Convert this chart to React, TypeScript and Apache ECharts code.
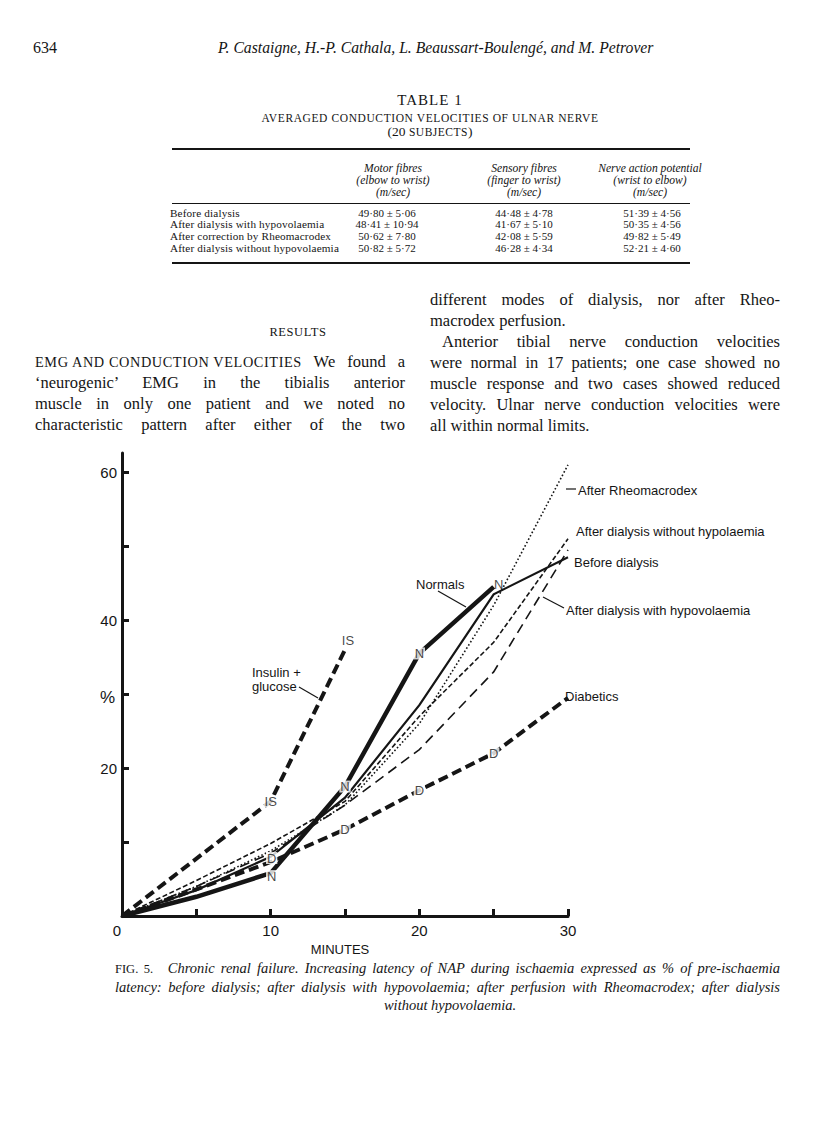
import React, { useEffect, useRef } from "react";
import * as echarts from "echarts";

// ---- axis ticks / labels ----
const xTicks = [0, 5, 10, 15, 20, 25, 30];
const xTickLabels = [0, 10, 20, 30];
const yTicks = [10, 20, 30, 40, 50, 60];
const yTickLabels = [20, 40, 60];

// ---- series (minutes, % increase of latency) ----
const isMinutes = [0, 10, 15];
const isValues = [0, 15.5, 36];

const normalMinutes = [0, 5, 10, 15, 20, 25];
const normalValues = [0, 2.6, 5.8, 17.5, 35.5, 44.5];

const diabeticMinutes = [0, 5, 10, 15, 20, 25, 30];
const diabeticValues = [0, 3.6, 7.3, 11.7, 17, 22, 29.5];

const stdMinutes = [0, 5, 10, 15, 20, 25, 30];
const beforeValues = [0, 3.5, 8, 16, 28.5, 43.5, 48.5];
const hypoValues = [0, 4, 8.5, 15, 22.5, 33, 49.5];
const rheoValues = [0, 4, 8.8, 15, 26, 42, 61];
const withoutValues = [0, 4.8, 9.8, 15.5, 27, 37, 51];

// indices of points carrying letter marks
const isMarked = [1, 2];
const normalMarked = [2, 3, 4, 5];
const diabeticMarked = [2, 3, 4, 5];

// ---- table ----
const tableRows = [
  "Before dialysis",
  "After dialysis with hypovolaemia",
  "After correction by Rheomacrodex",
  "After dialysis without hypovolaemia",
];
const motorFibres = ["49·80 ± 5·06", "48·41 ± 10·94", "50·62 ± 7·80", "50·82 ± 5·72"];
const sensoryFibres = ["44·48 ± 4·78", "41·67 ± 5·10", "42·08 ± 5·59", "46·28 ± 4·34"];
const napValues = ["51·39 ± 4·56", "50·35 ± 4·56", "49·82 ± 5·49", "52·21 ± 4·60"];

const SANS = '"Liberation Sans", Arial, Helvetica, sans-serif';
const SERIF = '"Liberation Serif", "Times New Roman", serif';
const INK = "#151515";

const zip = (xs: number[], ys: number[]) => xs.map((x, i) => [x, ys[i]]);

function lineSeries(name: string, xs: number[], ys: number[], width: number, type: any, z: number) {
  return {
    name,
    type: "line",
    data: zip(xs, ys),
    symbol: "none",
    showSymbol: false,
    color: INK,
    z,
    lineStyle: { color: INK, width, type, cap: "butt", join: "miter" },
    silent: true,
  };
}

function markSeries(text: string, xs: number[], ys: number[], idx: number[], offsets: Record<number, number[]>, endIdx: number[] = []) {
  return {
    type: "scatter",
    z: 10,
    color: INK,
    symbolSize: 0.01,
    itemStyle: { color: INK },
    silent: true,
    data: idx.map((i) => ({
      value: [xs[i], ys[i]],
      label: {
        offset: offsets[i] || [0, 0],
        backgroundColor: endIdx.includes(i) ? "transparent" : "#fff",
      },
    })),
    label: {
      show: true,
      position: "inside",
      formatter: text,
      fontFamily: SANS,
      fontSize: 13,
      color: INK,
      textBorderWidth: 0,
      textBorderColor: INK,
      backgroundColor: "#fff",
      padding: [0, 1],
      lineHeight: 12,
    },
  };
}

const abs = (left: number, top: number, extra: any = {}): React.CSSProperties => ({
  position: "absolute",
  left,
  top,
  whiteSpace: "nowrap",
  ...extra,
});

function Txt({ x, y, children, align = "left", size = 11, italic = false, lhf = 1.2, style = {} }: any) {
  const lh = Math.round(size * lhf);
  const tr = align === "center" ? "translateX(-50%)" : align === "right" ? "translateX(-100%)" : "none";
  return (
    <div
      style={abs(x, y - lh / 2, {
        fontFamily: SERIF,
        fontSize: size,
        lineHeight: lh + "px",
        fontStyle: italic ? "italic" : "normal",
        color: INK,
        transform: tr,
        ...style,
      })}
    >
      {children}
    </div>
  );
}

function JLine({ x, y, w, children, last = false, size = 16.5, indent = 0 }: any) {
  const lh = 20;
  return (
    <div
      style={{
        position: "absolute",
        left: x + indent,
        top: y - lh / 2,
        width: w - indent,
        fontFamily: SERIF,
        fontSize: size,
        lineHeight: lh + "px",
        color: INK,
        textAlign: last ? "left" : "justify",
        textAlignLast: last ? "left" : "justify",
        whiteSpace: "nowrap",
      } as React.CSSProperties}
    >
      {children}
    </div>
  );
}

export default function App() {
  const ref = useRef<HTMLDivElement>(null);

  useEffect(() => {
    if (!ref.current) return;
    const chart = echarts.init(ref.current, null, { renderer: "svg" });
    const text = (t: string, x: number, y: number, size = 13) => ({
      type: "text",
      x,
      y,
      silent: true,
      style: { text: t, font: `${size}px ${SANS}`, fill: INK, textVerticalAlign: "middle" },
    });
    const seg = (x1: number, y1: number, x2: number, y2: number) => ({
      type: "line",
      silent: true,
      shape: { x1, y1, x2, y2 },
      style: { stroke: INK, lineWidth: 1.2 },
    });
    chart.setOption({
      animation: false,
      backgroundColor: "transparent",
      color: [INK],
      grid: { left: 122, right: 248, top: 453, bottom: 226 },
      xAxis: {
        type: "value",
        min: 0,
        max: 30,
        axisLine: { lineStyle: { color: INK, width: 3 } },
        axisTick: { show: true, inside: true, length: 7, customValues: xTicks, lineStyle: { color: INK, width: 3 } },
        axisLabel: {
          customValues: xTickLabels,
          fontSize: 15,
          color: INK,
          fontFamily: SANS,
          margin: 7,
          formatter: (v: number) => (v === 0 ? "{z|0}" : String(v)),
          rich: { z: { fontSize: 15, fontFamily: SANS, color: INK, padding: [0, 10, 0, 0] } },
        },
        splitLine: { show: false },
        name: "MINUTES",
        nameLocation: "middle",
        nameGap: 27,
        nameTextStyle: { fontSize: 13, color: INK, fontFamily: SANS, padding: [0, 10, 0, 0] },
      },
      yAxis: {
        type: "value",
        min: 0,
        max: 62.6,
        axisLine: { lineStyle: { color: INK, width: 3 } },
        axisTick: { show: true, inside: true, length: 7, customValues: yTicks, lineStyle: { color: INK, width: 3 } },
        axisLabel: { customValues: yTickLabels, fontSize: 15, color: INK, fontFamily: SANS, margin: 5 },
        splitLine: { show: false },
      },
      series: [
        lineSeries("After Rheomacrodex", stdMinutes, rheoValues, 1.6, [1.6, 2.2], 2),
        lineSeries("After dialysis without hypolaemia", stdMinutes, withoutValues, 1.6, [5, 2.5], 2),
        lineSeries("After dialysis with hypovolaemia", stdMinutes, hypoValues, 1.6, [10, 6], 2),
        lineSeries("Before dialysis", stdMinutes, beforeValues, 2.2, "solid", 3),
        lineSeries("Diabetics", diabeticMinutes, diabeticValues, 4, [10, 5], 4),
        lineSeries("Insulin + glucose", isMinutes, isValues, 4, [10, 5], 4),
        lineSeries("Normals", normalMinutes, normalValues, 4.5, "solid", 5),
        markSeries("IS", isMinutes, isValues, isMarked, { 2: [3, -9] }, [2]),
        markSeries("N", normalMinutes, normalValues, normalMarked, { 2: [1, 3], 5: [5, -2] }, [5]),
        markSeries("D", diabeticMinutes, diabeticValues, diabeticMarked, { 2: [1, -4] }),
      ],
      graphic: [
        text("%", 100, 697, 17),
        text("Normals", 416, 584),
        seg(438, 591, 466, 607),
        text("Insulin +", 252, 672),
        text("glucose", 252, 686),
        seg(299, 687, 318, 698),
        seg(566, 489, 576, 489),
        text("After Rheomacrodex", 578, 490),
        text("After dialysis without hypolaemia", 576, 531),
        text("Before dialysis", 574, 562),
        seg(543, 597, 564, 608),
        text("After dialysis with hypovolaemia", 566, 610),
        text("Diabetics", 565, 696),
      ],
    });
    return () => chart.dispose();
  }, []);

  const colX = [393, 524, 650];
  const rowY = [212.5, 224.2, 235.9, 247.6];
  const rule = (top: number, h: number): React.CSSProperties => ({
    position: "absolute",
    left: 172,
    top,
    width: 518,
    height: h,
    background: INK,
  });

  return (
    <div style={{ position: "absolute", left: 0, top: 0, width: 816, height: 1142, background: "#fff", overflow: "hidden" }}>
      <div ref={ref} style={{ position: "absolute", left: 0, top: 0, width: 816, height: 1142 }} />

      {/* running head */}
      <Txt x={33} y={47} size={16}>634</Txt>
      <Txt x={218} y={47} size={15.7} italic>
        P. Castaigne, H.-P. Cathala, L. Beaussart-Boulengé, and M. Petrover
      </Txt>

      {/* table */}
      <Txt x={430} y={100} size={15} align="center" style={{ letterSpacing: 1 }}>TABLE 1</Txt>
      <Txt x={430} y={118} size={11.5} lhf={1} align="center" style={{ letterSpacing: 0.6 }}>
        AVERAGED CONDUCTION VELOCITIES OF ULNAR NERVE
      </Txt>
      <Txt x={430} y={132} size={13.5} lhf={1} align="center">
        (20 <span style={{ fontSize: 11.5, letterSpacing: 0.5 }}>SUBJECTS</span>)
      </Txt>
      <div style={rule(148, 2)} />
      <Txt x={colX[0]} y={169} size={11.6} lhf={0.9} italic align="center">Motor fibres</Txt>
      <Txt x={colX[0]} y={181} size={11.6} lhf={0.9} italic align="center">(elbow to wrist)</Txt>
      <Txt x={colX[0]} y={193} size={11.6} lhf={0.9} italic align="center">(m/sec)</Txt>
      <Txt x={colX[1]} y={169} size={11.6} lhf={0.9} italic align="center">Sensory fibres</Txt>
      <Txt x={colX[1]} y={181} size={11.6} lhf={0.9} italic align="center">(finger to wrist)</Txt>
      <Txt x={colX[1]} y={193} size={11.6} lhf={0.9} italic align="center">(m/sec)</Txt>
      <Txt x={colX[2]} y={169} size={11.6} lhf={0.9} italic align="center">Nerve action potential</Txt>
      <Txt x={colX[2]} y={181} size={11.6} lhf={0.9} italic align="center">(wrist to elbow)</Txt>
      <Txt x={colX[2]} y={193} size={11.6} lhf={0.9} italic align="center">(m/sec)</Txt>
      <div style={rule(203, 1)} />
      {tableRows.map((r, i) => (
        <React.Fragment key={r}>
          <Txt x={170} y={rowY[i]} size={11.2} lhf={0.9} style={{ letterSpacing: 0.15 }}>{r}</Txt>
          <Txt x={387} y={rowY[i]} size={11} lhf={0.9} align="center">{motorFibres[i]}</Txt>
          <Txt x={524} y={rowY[i]} size={11} lhf={0.9} align="center">{sensoryFibres[i]}</Txt>
          <Txt x={652} y={rowY[i]} size={11} lhf={0.9} align="center">{napValues[i]}</Txt>
        </React.Fragment>
      ))}
      <div style={rule(262, 2)} />

      {/* body text, left column */}
      <Txt x={298} y={332} size={12.5} align="center" style={{ letterSpacing: 0.6 }}>RESULTS</Txt>
      <JLine x={35} y={362} w={370}>
        <span style={{ display: "inline-block", fontSize: 14.3, letterSpacing: 0.6 }}>EMG AND CONDUCTION VELOCITIES</span>
        {" We found a"}
      </JLine>
      <JLine x={35} y={383} w={370}>‘neurogenic’ EMG in the tibialis anterior</JLine>
      <JLine x={35} y={404} w={370}>muscle in only one patient and we noted no</JLine>
      <JLine x={35} y={425} w={370}>characteristic pattern after either of the two</JLine>

      {/* body text, right column */}
      <JLine x={430} y={300} w={350}>different modes of dialysis, nor after Rheo-</JLine>
      <JLine x={430} y={321} w={350} last>macrodex perfusion.</JLine>
      <JLine x={430} y={342} w={350} indent={12}>Anterior tibial nerve conduction velocities</JLine>
      <JLine x={430} y={363} w={350}>were normal in 17 patients; one case showed no</JLine>
      <JLine x={430} y={384} w={350}>muscle response and two cases showed reduced</JLine>
      <JLine x={430} y={405} w={350}>velocity. Ulnar nerve conduction velocities were</JLine>
      <JLine x={430} y={426} w={350} last>all within normal limits.</JLine>

      {/* caption */}
      <JLine x={115} y={968} w={665} size={14.5}>
        <span style={{ fontStyle: "normal", fontSize: 12.5 }}>FIG. 5.</span>
        <i>{"\u2003Chronic renal failure. Increasing latency of NAP during ischaemia expressed as % of pre-ischaemia"}</i>
      </JLine>
      <JLine x={115} y={987} w={665} size={14.5}>
        <i>latency: before dialysis; after dialysis with hypovolaemia; after perfusion with Rheomacrodex; after dialysis</i>
      </JLine>
      <Txt x={450} y={1005} size={14.5} italic align="center">without hypovolaemia.</Txt>
    </div>
  );
}
